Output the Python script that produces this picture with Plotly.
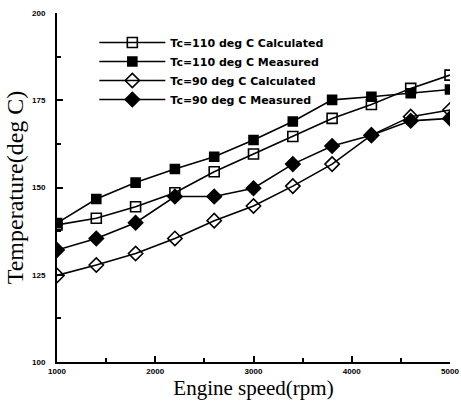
import plotly.graph_objects as go

speed = [1000, 1400, 1800, 2200, 2600, 3000, 3400, 3800, 4200, 4600, 5000]
tc110_calc = [139.3, 141.2, 144.5, 148.5, 154.5, 159.6, 164.6, 169.8, 173.8, 178.4, 182.2]
tc110_meas = [139.8, 146.7, 151.4, 155.3, 158.8, 163.6, 168.9, 175.1, 176.0, 177.0, 178.1]
tc90_calc = [124.8, 127.8, 131.1, 135.4, 140.5, 144.7, 150.4, 156.7, 165.0, 170.3, 172.2]
tc90_meas = [132.1, 135.4, 139.9, 147.4, 147.4, 149.8, 156.7, 161.9, 165.0, 169.1, 169.8]

names = ["Tc=110 deg C Calculated", "Tc=110 deg C Measured",
         "Tc=90 deg C Calculated", "Tc=90 deg C Measured"]
series = [tc110_calc, tc110_meas, tc90_calc, tc90_meas]
symbols = ["square-open", "square", "diamond-open", "diamond"]
sizes = [10, 9, 11, 11]

fig = go.Figure()
for nm, ys, sym, sz in zip(names, series, symbols, sizes):
    fig.add_trace(go.Scatter(
        x=speed, y=ys, name=nm, mode="lines+markers",
        line=dict(color="black", width=1.6),
        marker=dict(symbol=sym, size=sz, color="black",
                    line=dict(color="black", width=1.6)),
    ))

tickfont = dict(family="Liberation Sans", size=8, color="black", weight="bold")
fig.update_layout(
    width=461, height=401,
    margin=dict(l=57, r=11, t=13, b=39),
    paper_bgcolor="white", plot_bgcolor="white",
    showlegend=True,
    legend=dict(x=0.095, y=0.957, xanchor="left", yanchor="top",
                bgcolor="rgba(0,0,0,0)",
                font=dict(family="DejaVu Sans", size=11, color="black", weight="bold"),
                tracegroupgap=0, itemwidth=66),
    xaxis=dict(range=[1000, 5000], showline=True, linecolor="black", linewidth=2,
               showgrid=False, zeroline=False, ticks="inside", ticklen=6,
               tickwidth=1.5, tickcolor="black", dtick=1000, tick0=1000,
               minor=dict(ticks="inside", ticklen=4, dtick=500, tickcolor="black", showgrid=False),
               tickfont=tickfont, automargin=False,
               title=dict(text="Engine speed(rpm)", standoff=2,
                          font=dict(family="Liberation Serif", size=21, color="black"))),
    yaxis=dict(range=[100, 200], showline=True, linecolor="black", linewidth=2,
               showgrid=False, zeroline=False, ticks="inside", ticklen=6,
               tickwidth=1.5, tickcolor="black", dtick=25, tick0=100,
               minor=dict(ticks="inside", ticklen=4, dtick=12.5, tickcolor="black", showgrid=False),
               tickfont=tickfont, automargin=False, ticklabelstandoff=8,
               title=dict(text="Temperature(deg C)", standoff=2,
                          font=dict(family="Liberation Serif", size=24, color="black"))),
)

fig.write_html("out.html", config={"displayModeBar": False},
               post_script="document.body.style.margin='0';")
